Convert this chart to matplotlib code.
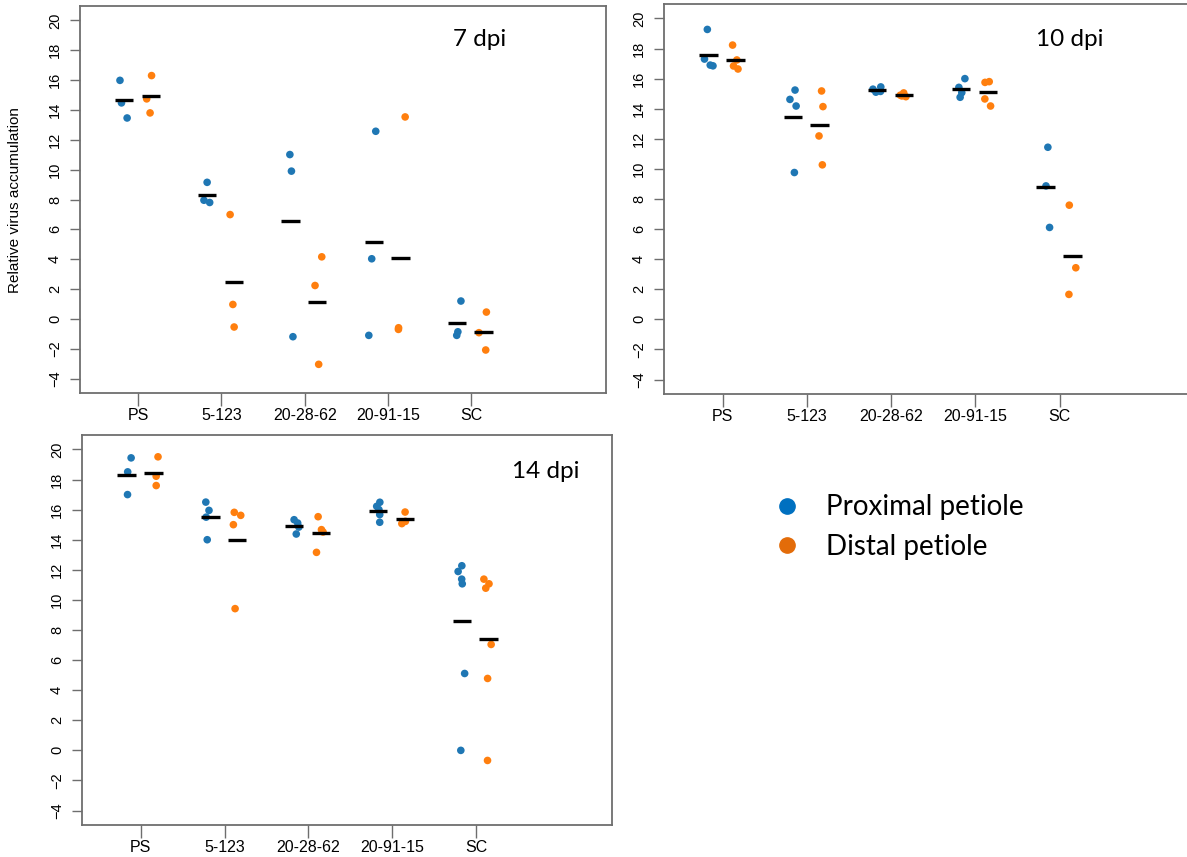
import numpy as np
import matplotlib
matplotlib.use("Agg")
import matplotlib.pyplot as plt
from matplotlib.lines import Line2D

# 字体配置
plt.rcParams["font.family"] = ["Liberation Sans", "DejaVu Sans"]
plt.rcParams["axes.unicode_minus"] = True

groups = ["PS", "5-123", "20-28-62", "20-91-15", "SC"]
yticks = list(range(-4, 21, 2))

# 7 dpi
prox_7 = [
    [15.98, 14.47, 13.46],
    [9.15, 7.95, 7.8],
    [11.01, 9.90, -1.19],
    [12.57, 4.03, -1.10],
    [1.20, -0.86, -1.10],
]
dist_7 = [
    [16.30, 14.74, 13.80],
    [6.99, 0.97, -0.54],
    [4.16, 2.24, -3.04],
    [13.53, -0.70, -0.59],
    [0.46, -0.92, -2.08],
]

# 10 dpi
prox_10 = [
    [19.27, 17.3, 16.9, 16.85],
    [15.24, 14.62, 14.18, 9.76],
    [15.45, 15.3, 15.15, 15.1],
    [16.0, 15.42, 15.07, 14.76],
    [11.44, 8.87, 6.11],
]
dist_10 = [
    [18.23, 17.24, 16.84, 16.64],
    [15.18, 14.14, 12.19, 10.27],
    [15.05, 14.9, 14.8, 14.85],
    [15.8, 15.75, 14.65, 14.18],
    [7.59, 3.43, 1.66],
]

# 14 dpi
prox_14 = [
    [19.44, 18.51, 17.0],
    [16.5, 15.95, 15.5, 14.0],
    [15.33, 15.11, 14.84, 14.38],
    [16.49, 16.22, 16.0, 15.67, 15.16],
    [12.27, 11.89, 11.38, 11.07, 5.11, 0.0],
]
dist_14 = [
    [19.51, 18.22, 17.6],
    [15.82, 15.62, 15.0, 9.42],
    [15.53, 14.67, 14.51, 13.16],
    [15.84, 15.22, 15.07],
    [11.38, 11.07, 10.78, 7.04, 4.78, -0.67],
]

panels = [
    ("7 dpi", prox_7, dist_7),
    ("10 dpi", prox_10, dist_10),
    ("14 dpi", prox_14, dist_14),
]

# 坐标轴位置 (像素: 左, 右, 上, 下)
W, H = 1187, 857
boxes = [(80, 606, 6, 393), (664, 1196, 4, 394), (82, 612, 435, 825)]
label_pos = [(480, 40), (1070, 40), (546, 472)]

col_p = "#1f77b4"
col_d = "#ff7f0e"
spine_col = "#6e6e6e"

rng = np.random.default_rng(3)

fig = plt.figure(figsize=(W / 100, H / 100), dpi=100)

for k, (name, prox, dist) in enumerate(panels):
    l, r, t, b = boxes[k]
    ax = fig.add_axes([l / W, 1 - b / H, (r - l) / W, (b - t) / H])
    for i in range(len(groups)):
        for vals, off, c in ((prox[i], -0.17, col_p), (dist[i], 0.15, col_d)):
            vals = np.array(vals)
            x = i + 1 + off + rng.uniform(-0.06, 0.06, len(vals))
            ax.scatter(x, vals, s=30, color=c, edgecolors="none", zorder=2)
            m = vals.mean()
            ax.hlines(m, i + 1 + off - 0.11, i + 1 + off + 0.11,
                      color="black", lw=2.4, zorder=3)
    ax.set_xlim(0.30, 6.62)
    ax.set_ylim(-4.96, 20.96)
    ax.set_xticks(range(1, 6))
    ax.set_xticklabels(groups, fontsize=11.5)
    ax.set_yticks(yticks)
    ax.set_yticklabels([str(v).replace("-", "\u2212") for v in yticks],
                       fontsize=10.5, rotation=90, va="center")
    ax.tick_params(axis="x", length=9, width=1, color=spine_col, pad=2)
    ax.tick_params(axis="y", length=7, width=1, color=spine_col, pad=6)
    for s in ax.spines.values():
        s.set_color(spine_col)
        s.set_linewidth(1.3)
    fig.text(label_pos[k][0] / W, 1 - label_pos[k][1] / H, name,
             fontsize=17.5, family=["Lato", "DejaVu Sans"],
             ha="center", va="center")

fig.text(15 / W, 1 - 200 / H, "Relative virus accumulation",
         rotation=90, fontsize=11, ha="center", va="center")

handles = [
    Line2D([], [], ls="none", marker="o", ms=11, color="#0070c0",
           label="Proximal petiole"),
    Line2D([], [], ls="none", marker="o", ms=11, color="#e36c09",
           label="Distal petiole"),
]
fig.legend(handles=handles, loc="center left",
           bbox_to_anchor=(748 / W, 1 - 527 / H), frameon=False,
           prop={"family": ["Lato", "DejaVu Sans"], "size": 20},
           handletextpad=0.9, labelspacing=0.47, handlelength=1.0)

fig.savefig("out.png", dpi=100)
